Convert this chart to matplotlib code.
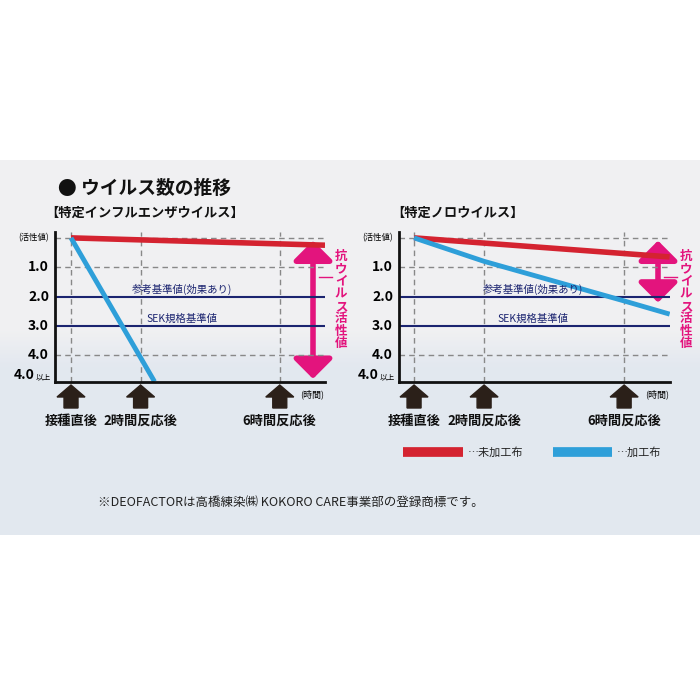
import matplotlib
matplotlib.use("Agg")
import matplotlib.pyplot as plt
from matplotlib.transforms import blended_transform_factory as btf
from matplotlib.patches import Polygon, FancyArrowPatch
import numpy as np

plt.rcParams["font.family"] = ["Noto Sans CJK JP", "DejaVu Sans"]

titles = ["【特定インフルエンザウイルス】", "【特定ノロウイルス】"]
tick_hours = [0, 2, 6]
tick_labels = ["接種直後", "2時間反応後", "6時間反応後"]
red_hours = [[0, 7.3], [0, 7.3]]
red_vals = [[0, 0.25], [0, 0.65]]
blue_hours = [[0, 2.4], [0, 2, 6, 7.3]]
blue_vals = [[0, 4.9], [0, 0.8, 2.15, 2.6]]
ref_levels = [2.0, 3.0]
ref_labels = ["参考基準値(効果あり)", "SEK規格基準値"]
ylab_vals = [1, 2, 3, 4]
ylab_text = ["1.0", "2.0", "3.0", "4.0"]
pink_span = [(0, 4.9), (0, 2.3)]

RED = "#d42330"; BLUE = "#2e9fd9"; NAVY = "#1b2470"; PINK = "#e3147d"; DARK = "#2b2019"

fig = plt.figure(figsize=(7, 7), dpi=100)
bg = fig.add_axes([0, 0, 1, 1]); bg.set_xlim(0, 700); bg.set_ylim(700, 0); bg.axis("off")
grad = np.linspace(0, 1, 200)[:, None]
top = np.array([0.945, 0.945, 0.95]); bot = np.array([0.89, 0.91, 0.94])
w = np.clip((grad - 0.45) / 0.1, 0, 1)
cols = (top[None, :] * (1 - w) + bot[None, :] * w)[:, None, :]
bg.imshow(cols, extent=[0, 700, 535, 160], aspect="auto", zorder=0)
bg.set_xlim(0, 700); bg.set_ylim(700, 0)

bg.text(58, 188, "● ウイルス数の推移", fontsize=13.5, fontweight="bold", va="center", color="#111")
bg.text(45, 213, titles[0], fontsize=9.5, fontweight="bold", va="center", color="#111")
bg.text(391, 213, titles[1], fontsize=9.5, fontweight="bold", va="center", color="#111")

rects = [(55, 325, -0.46, 7.3), (399, 670, -0.43, 7.31)]
for i, (x0, x1, h0, h1) in enumerate(rects):
    ytop, ybot = 232, 381.6
    ax = fig.add_axes([x0 / 700, (700 - ybot) / 700, (x1 - x0) / 700, (ybot - ytop) / 700])
    ax.patch.set_alpha(0)
    ax.set_xlim(h0, h1); ax.set_ylim(4.9, -0.2)
    for s in ["top", "right"]:
        ax.spines[s].set_visible(False)
    for s in ["left", "bottom"]:
        ax.spines[s].set_linewidth(2); ax.spines[s].set_color("#111")
    ax.set_xticks([]); ax.set_yticks([])
    for y in [0, 1, 4]:
        ax.axhline(y, color="#888", ls=(0, (4, 3)), lw=1)
    for h in tick_hours:
        ax.axvline(h, color="#888", ls=(0, (4, 3)), lw=1)
    for y, lab in zip(ref_levels, ref_labels):
        ax.axhline(y, color=NAVY, lw=1.5)
        ax.text(3.2 if i == 0 else 3.4, y - 0.25, lab, color=NAVY, fontsize=7.5, ha="center", va="center")
    ax.plot(red_hours[i], red_vals[i], color=RED, lw=4, solid_capstyle="butt")
    ax.plot(blue_hours[i], blue_vals[i], color=BLUE, lw=3.5, solid_capstyle="butt")
    trl = btf(bg.transData, ax.transData)
    ax.text(x0 - 6, 0, "(活性値)", transform=trl, fontsize=6, ha="right", va="center")
    for v, t in zip(ylab_vals, ylab_text):
        ax.text(x0 - 6, v, t, transform=trl, fontsize=10, fontweight="bold", ha="right", va="center")
    ax.text(x0 - 20, 4.9, "4.0", transform=trl, fontsize=10, fontweight="bold", ha="right", va="bottom")
    ax.text(x0 - 19, 4.9, "以上", transform=trl, fontsize=5.5, ha="left", va="bottom")
    bg.text(x1 - 25, 394, "(時間)", fontsize=6.5, ha="left", va="center")
    for h, lab in zip(tick_hours, tick_labels):
        xc = ax.transData.transform((h, 0))[0]
        xp = bg.transData.inverted().transform((xc, 0))[0]
        pts = [(xp - 14, 397), (xp, 385), (xp + 14, 397), (xp + 7, 397), (xp + 7, 408), (xp - 7, 408), (xp - 7, 397)]
        bg.add_patch(Polygon(pts, closed=True, color=DARK, zorder=5))
        bg.text(xp, 421, lab, fontsize=9.5, fontweight="bold", ha="center", va="center", color="#111")
    a, b = pink_span[i]
    px = x1 - 12
    arr = FancyArrowPatch((px, a), (px, b), transform=trl, arrowstyle="<|-|>,head_length=8,head_width=8",
                          color=PINK, lw=4, clip_on=False, mutation_scale=1.5)
    ax.add_patch(arr)
    tx = x1 + 16
    bg.text(tx, 300, "\n".join("抗ウイルス活性値"), color=PINK, fontsize=9, fontweight="bold",
            ha="center", va="center", linespacing=0.95)
    bg.plot([px + 6, tx - 9], [277, 277], color=PINK, lw=1)

bg.plot([403, 463], [452, 452], color=RED, lw=7, solid_capstyle="butt")
bg.text(468, 452, "…未加工布", fontsize=8, va="center", color="#222")
bg.plot([553, 612], [452, 452], color=BLUE, lw=7, solid_capstyle="butt")
bg.text(617, 452, "…加工布", fontsize=8, va="center", color="#222")
bg.text(98, 502, "※DEOFACTORは高橋練染㈱ KOKORO CARE事業部の登録商標です。", fontsize=9, va="center", color="#222")

fig.savefig("out.png", dpi=100)
